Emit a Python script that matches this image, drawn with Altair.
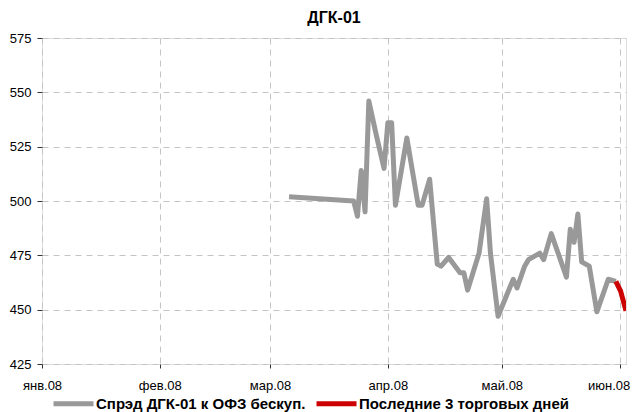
import altair as alt
import pandas as pd

# Spread data (bp)
gray_dates = [
    "2008-03-06", "2008-03-23", "2008-03-24", "2008-03-25", "2008-03-26",
    "2008-03-27", "2008-03-29", "2008-03-31", "2008-04-01", "2008-04-02",
    "2008-04-03", "2008-04-06", "2008-04-09", "2008-04-10", "2008-04-12",
    "2008-04-14", "2008-04-15", "2008-04-17", "2008-04-20", "2008-04-21",
    "2008-04-22", "2008-04-25", "2008-04-27", "2008-04-28", "2008-04-30",
    "2008-05-04", "2008-05-05", "2008-05-07", "2008-05-08", "2008-05-11",
    "2008-05-12", "2008-05-14", "2008-05-18", "2008-05-19", "2008-05-20",
    "2008-05-21", "2008-05-22", "2008-05-24", "2008-05-26", "2008-05-29",
    "2008-05-31",
]
gray_values = [
    502, 500, 493, 514, 495,
    546, 530, 515, 536, 536,
    498, 529, 498, 498, 510,
    471, 470, 474, 467, 467,
    459, 476, 501, 476, 447,
    464, 460, 470, 473, 476,
    473, 485, 465, 487, 481,
    494, 472, 470, 449, 464,
    463,
]
red_dates = ["2008-05-31T00:00", "2008-06-01T06:00", "2008-06-02T16:00"]
red_values = [463, 458.5, 449.5]

gray_label = "Спрэд ДГК-01 к ОФЗ бескуп."
red_label = "Последние 3 торговых дней"

df = pd.concat([
    pd.DataFrame({"date": pd.to_datetime(gray_dates, format="ISO8601"),
                  "value": gray_values, "series": gray_label}),
    pd.DataFrame({"date": pd.to_datetime(red_dates, format="ISO8601"),
                  "value": red_values, "series": red_label}),
], ignore_index=True)

FONT = "Liberation Sans, Arial, sans-serif"

month_ticks = [alt.DateTime(year=2008, month=m, date=1) for m in range(1, 7)]

chart = alt.Chart(df).mark_line(strokeWidth=5, strokeJoin="round", strokeCap="butt", clip=True).encode(
    x=alt.X("date:T",
            scale=alt.Scale(domain=[alt.DateTime(year=2008, month=1, date=1),
                                    alt.DateTime(year=2008, month=6, date=2, hours=16)]),
            axis=alt.Axis(title=None, values=month_ticks,
                          labelExpr="['янв','фев','мар','апр','май','июн'][month(datum.value)] + '.08'",
                          grid=True, gridDash=[6, 5], gridColor="#c4c4c4",
                          tickSize=4, tickColor="#333333", labelPadding=11,
                          labelOffset={"condition": {"test": "month(datum.value) == 5", "value": -11},
                                       "value": 0},
                          labelFontSize=13, labelFont=FONT, labelColor="#000000",
                          domain=False, labelFlush=False, labelBound=False)),
    y=alt.Y("value:Q",
            scale=alt.Scale(domain=[425, 575], nice=False, zero=False),
            axis=alt.Axis(title=None, values=[425, 450, 475, 500, 525, 550, 575],
                          grid=True, gridDash=[6, 5], gridColor="#c4c4c4",
                          tickSize=5, tickColor="#333333", labelPadding=6,
                          labelFontSize=13, labelFont=FONT, labelColor="#000000",
                          domain=False)),
    color=alt.Color("series:N",
                    scale=alt.Scale(domain=[gray_label, red_label], range=["#999999", "#cc0000"]),
                    legend=alt.Legend(title=None, orient="none", legendX=9, legendY=343,
                                      direction="horizontal",
                                      symbolType="stroke", symbolSize=1600, symbolStrokeWidth=5,
                                      labelFont=FONT, labelFontSize=15, labelFontWeight="bold",
                                      labelColor="#000000", labelLimit=400, columnPadding=0,
                                      padding=0, labelOffset=0)),
    detail="series:N",
).properties(
    width=584,
    height=326,
    autosize=alt.AutoSizeParams(type="none"),
    padding={"left": 34, "top": 30, "right": 6, "bottom": 48},
    title=alt.TitleParams("ДГК-01", font=FONT, fontSize=16, fontWeight="bold",
                          color="#000000", offset=6, anchor="middle"),
).configure_view(
    stroke="#222222", strokeWidth=1.5
).configure(background="#ffffff")

chart.save("out.html", embed_options={"renderer": "svg", "actions": False})
